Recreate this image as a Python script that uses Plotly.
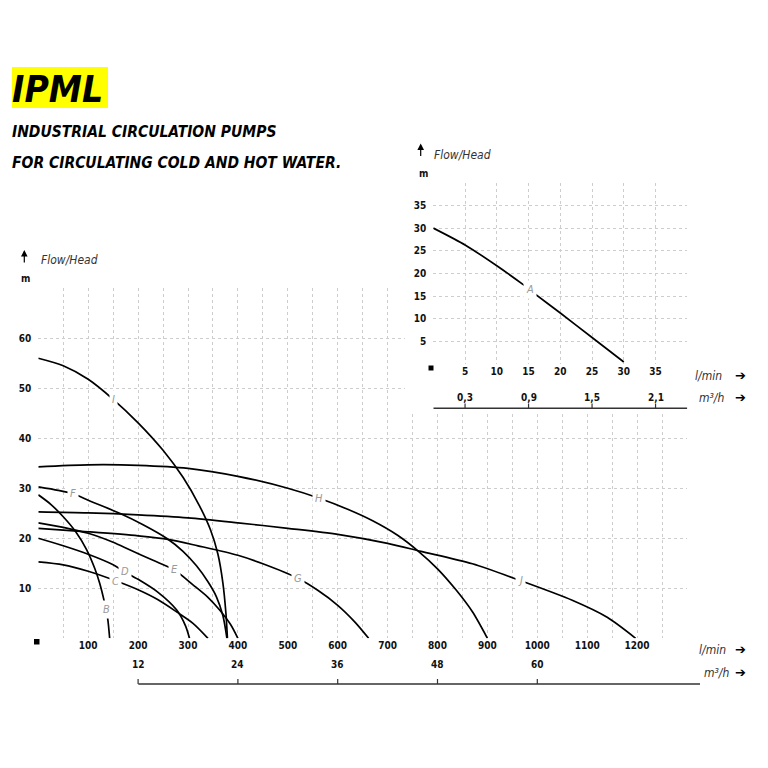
import plotly.graph_objects as go

# pump curves, flow in l/min, head in m
curves = {
    "B": ([0, 25, 50, 75, 97, 113, 123, 133, 139, 143],
          [28.7, 26.8, 24.3, 21.3, 17.7, 14.0, 11.0, 7.0, 4.0, 0.0]),
    "C": ([0, 50, 100, 155, 200, 240, 277, 310, 340],
          [15.3, 14.7, 13.4, 11.5, 9.7, 7.7, 5.3, 3.0, 0.0]),
    "D": ([0, 50, 100, 150, 173, 200, 240, 277, 295, 303],
          [20.0, 18.5, 16.8, 14.7, 13.3, 11.8, 9.2, 5.7, 2.5, 0.0]),
    "E": ([0, 50, 100, 150, 183, 230, 272, 310, 340, 363, 385, 400],
          [23.1, 22.2, 21.0, 19.2, 17.7, 15.6, 13.7, 10.7, 8.2, 5.7, 2.8, 0.0]),
    "F": ([0, 40, 70, 100, 163, 210, 257, 290, 317, 340, 357, 370, 378],
          [30.3, 29.6, 28.9, 27.6, 25.0, 22.7, 20.0, 17.4, 14.5, 11.3, 8.3, 4.5, 0.0]),
    "G": ([0, 100, 200, 260, 320, 400, 450, 520, 560, 600, 635, 662],
          [22.0, 21.3, 20.5, 19.8, 18.5, 16.6, 14.9, 12.0, 9.6, 6.6, 3.2, 0.0]),
    "H": ([0, 100, 200, 300, 400, 500, 563, 620, 670, 720, 763, 800, 837, 870, 900],
          [34.3, 34.7, 34.6, 34.0, 32.4, 30.0, 28.0, 25.8, 23.5, 20.6, 17.3, 13.9, 9.7, 5.3, 0.0]),
    "I": ([0, 50, 100, 150, 200, 250, 290, 323, 345, 360, 370, 376, 379],
          [56.0, 54.5, 51.8, 47.8, 43.1, 37.6, 32.2, 26.5, 21.7, 16.8, 11.0, 5.0, 0.0]),
    "J": ([0, 100, 200, 300, 400, 500, 600, 700, 767, 870, 967, 1070, 1140, 1197],
          [25.3, 25.1, 24.7, 24.1, 23.1, 22.0, 20.8, 19.0, 17.4, 14.9, 11.5, 7.6, 4.2, 0.0]),
}
label_pos = {"B": (136, 5.7), "C": (155, 11.4), "D": (173, 13.3), "E": (272, 13.7),
             "F": (70, 28.9), "G": (520, 12.0), "H": (563, 28.0), "I": (150, 47.8),
             "J": (967, 11.5)}

inset_flow = [0, 5, 10, 14, 16, 20, 25, 30]
inset_head = [30.0, 26.3, 21.7, 17.7, 15.5, 11.3, 5.9, 0.5]
inset_label_pos = (15.3, 16.4)

main_x_labels = [100, 200, 300, 400, 500, 600, 700, 800, 900, 1000, 1100, 1200]
main_y_labels = [10, 20, 30, 40, 50, 60]
main_m3h = [12, 24, 36, 48, 60]
inset_x_labels = [5, 10, 15, 20, 25, 30, 35]
inset_y_labels = [5, 10, 15, 20, 25, 30, 35]
inset_m3h = ["0,3", "0,9", "1,5", "2,1"]
inset_m3h_at = [5, 15, 25, 35]

FONT = "Liberation Sans Narrow, DejaVu Sans Condensed, Arial Narrow, Liberation Sans, sans-serif"
GRID = "#cdcdcd"
SIZE = 752  # page has an 8px body margin
OFF = 8


def px(v):
    return (v - OFF) / SIZE


def py(v):
    return 1 - (v - OFF) / SIZE


fig = go.Figure()

for name, (x, y) in curves.items():
    fig.add_trace(go.Scatter(x=x, y=y, mode="lines", xaxis="x", yaxis="y",
                             line=dict(color="black", width=1.7, shape="spline", smoothing=0.8),
                             hoverinfo="skip", showlegend=False))

# white mask that hides the main grid behind the small chart
fig.add_trace(go.Scatter(x=[0, 1, 1, 0, 0], y=[0, 0, 1, 1, 0], xaxis="x2", yaxis="y2",
                         mode="lines", fill="toself", fillcolor="white",
                         line=dict(width=0, color="white"), hoverinfo="skip", showlegend=False))

fig.add_trace(go.Scatter(x=inset_flow, y=inset_head, mode="lines", xaxis="x3", yaxis="y3",
                         line=dict(color="black", width=1.7, shape="spline", smoothing=0.6),
                         hoverinfo="skip", showlegend=False))

tickfont = dict(family=FONT, size=10, color="#111", weight="bold")

fig.update_layout(
    width=SIZE, height=SIZE,
    margin=dict(l=0, r=0, t=0, b=0),
    paper_bgcolor="white", plot_bgcolor="white",
    font=dict(family=FONT),
    xaxis=dict(domain=[px(38.3), px(687)], range=[0, 1300], tickvals=main_x_labels,
               showgrid=True, gridcolor=GRID, griddash="dot", gridwidth=1,
               minor=dict(tick0=0, dtick=50, showgrid=True, gridcolor=GRID, griddash="dot"),
               zeroline=False, showline=False, ticks="", tickfont=tickfont, anchor="y",
               fixedrange=True),
    yaxis=dict(domain=[py(638.3), py(288.3)], range=[0, 70], tickvals=main_y_labels + [70],
               ticktext=[str(v) for v in main_y_labels] + [""],
               showgrid=True, gridcolor=GRID, griddash="dot", gridwidth=1,
               zeroline=False, showline=False, ticks="", tickfont=tickfont, anchor="x",
               ticklabelstandoff=6),
    xaxis2=dict(domain=[px(405), px(700)], range=[0, 1], visible=False, anchor="y2"),
    yaxis2=dict(domain=[py(413), py(285)], range=[0, 1], visible=False, anchor="x2"),
    xaxis3=dict(domain=[px(433.3), px(687.3)], range=[0, 40], tickvals=[0] + inset_x_labels + [40],
                ticktext=[""] + [str(v) for v in inset_x_labels] + [""],
                showgrid=True, gridcolor=GRID, griddash="dot", zeroline=False, showline=False,
                ticks="", tickfont=tickfont, anchor="y3"),
    yaxis3=dict(domain=[py(364.3), py(182.7)], range=[0, 40], tickvals=[0] + inset_y_labels + [40],
                ticktext=[""] + [str(v) for v in inset_y_labels] + [""],
                showgrid=True, gridcolor=GRID, griddash="dot", zeroline=False, showline=False,
                ticks="", tickfont=tickfont, anchor="x3", ticklabelstandoff=6),
)

shapes = [
    dict(type="rect", xref="paper", yref="paper", x0=px(12), x1=px(108), y0=py(108), y1=py(67),
         fillcolor="#ffff00", line=dict(width=0), layer="below"),
    dict(type="rect", xref="paper", yref="paper", x0=px(34), x1=px(39.5), y0=py(644.5), y1=py(639),
         fillcolor="black", line=dict(width=0)),
    dict(type="rect", xref="paper", yref="paper", x0=px(428.5), x1=px(433.5), y0=py(370.5), y1=py(365.5),
         fillcolor="black", line=dict(width=0)),
    dict(type="line", xref="paper", yref="paper", x0=px(138.3), x1=px(700), y0=py(684), y1=py(684),
         line=dict(color="#333", width=1.5)),
    dict(type="line", xref="x3", yref="paper", x0=0, x1=40, y0=py(408.3), y1=py(408.3),
         line=dict(color="#333", width=1.5)),
]
annotations = []

for v in main_m3h:
    q = v / 0.06
    shapes.append(dict(type="line", xref="x", yref="paper", x0=q, x1=q, y0=py(684), y1=py(679),
                       line=dict(color="#333", width=1.2)))
    annotations.append(dict(x=q, y=py(672), xref="x", yref="paper", text=str(v), showarrow=False,
                            font=tickfont))
for lab, q in zip(inset_m3h, inset_m3h_at):
    shapes.append(dict(type="line", xref="x3", yref="paper", x0=q, x1=q, y0=py(408.3), y1=py(403.5),
                       line=dict(color="#333", width=1.2)))
    annotations.append(dict(x=q, y=py(397), xref="x3", yref="paper", text=lab, showarrow=False,
                            font=tickfont))

labfont = dict(family=FONT, size=11, color="#9a9a9a", style="italic")
for name, (lx, ly) in label_pos.items():
    annotations.append(dict(x=lx, y=ly, xref="x", yref="y", text=name, showarrow=False,
                            font=labfont, bgcolor="white", borderpad=2))
annotations.append(dict(x=inset_label_pos[0], y=inset_label_pos[1], xref="x3", yref="y3", text="A",
                        showarrow=False, font=labfont, bgcolor="white", borderpad=2))

unitfont = dict(family=FONT, size=12, color="#333", style="italic")
boldsmall = dict(family=FONT, size=10, color="#111", weight="bold")
arrowfont = dict(family="DejaVu Sans", size=13, color="black")


def text(x, y, s, font, xanchor="left"):
    annotations.append(dict(x=px(x), y=py(y), xref="paper", yref="paper", text=s, showarrow=False,
                            font=font, xanchor=xanchor, yanchor="middle"))


# titles
text(10, 89, "<b><i>IPML</i></b>", dict(family=FONT, size=37, color="black"))
text(10, 132, "<b><i>INDUSTRIAL CIRCULATION PUMPS</i></b>", dict(family=FONT, size=15.5, color="black"))
text(10, 163, "<b><i>FOR CIRCULATING COLD AND HOT WATER.</i></b>", dict(family=FONT, size=15.5, color="black"))

# axis captions, main chart
text(39, 260, "Flow/Head", unitfont)
text(19, 278, "m", boldsmall)
text(697, 650, "l/min", unitfont)
text(702, 673, "m³/h", unitfont)
text(733, 649, "➔", arrowfont)
text(733, 672, "➔", arrowfont)
# axis captions, small chart
text(432, 155, "Flow/Head", unitfont)
text(417, 173, "m", boldsmall)
text(693, 376, "l/min", unitfont)
text(697, 398, "m³/h", unitfont)
text(733, 376, "➔", arrowfont)
text(733, 398, "➔", arrowfont)

for ax_x, tip_y in [(24.3, 250), (420.7, 143.5)]:
    annotations.append(dict(x=px(ax_x), y=py(tip_y), xref="paper", yref="paper", text="",
                            showarrow=True, ax=0, ay=14, arrowhead=2, arrowsize=1.1,
                            arrowwidth=1.2, arrowcolor="black"))

fig.update_layout(shapes=shapes, annotations=annotations)

fig.write_html("out.html")
